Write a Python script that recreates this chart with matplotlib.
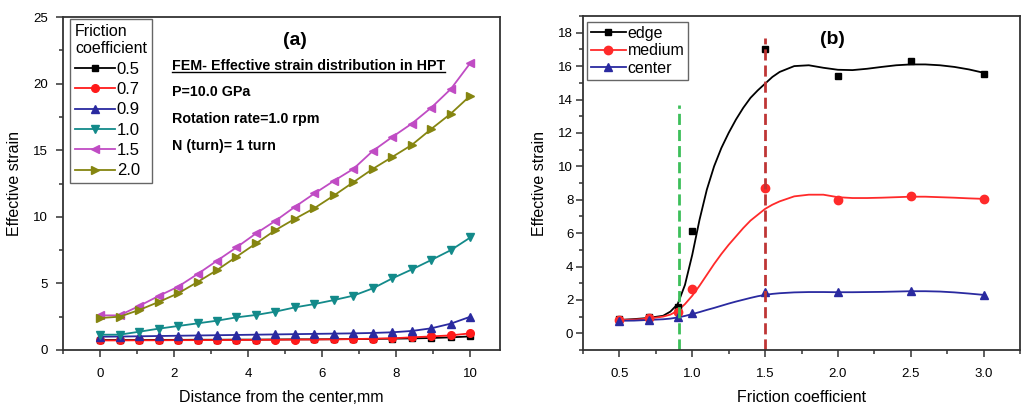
import matplotlib.pyplot as plt
from matplotlib.lines import Line2D
from matplotlib.ticker import MultipleLocator

plt.rcParams['font.family'] = ['Liberation Sans', 'DejaVu Sans']

# (a) effective strain along the radius, one curve per friction coefficient
distance = [0.0, 0.526, 1.053, 1.579, 2.105, 2.632, 3.158, 3.684, 4.211, 4.737,
            5.263, 5.789, 6.316, 6.842, 7.368, 7.895, 8.421, 8.947, 9.474, 10.0]
strain_05 = [0.75, 0.75, 0.75, 0.76, 0.76, 0.77, 0.77, 0.78, 0.78, 0.79,
             0.80, 0.80, 0.81, 0.82, 0.83, 0.85, 0.87, 0.90, 0.95, 1.02]
strain_07 = [0.72, 0.72, 0.73, 0.73, 0.74, 0.74, 0.75, 0.75, 0.76, 0.77,
             0.78, 0.79, 0.80, 0.82, 0.85, 0.88, 0.95, 1.02, 1.10, 1.25]
strain_09 = [1.00, 1.01, 1.03, 1.05, 1.07, 1.09, 1.11, 1.13, 1.15, 1.17,
             1.19, 1.21, 1.23, 1.25, 1.28, 1.33, 1.43, 1.63, 1.98, 2.50]
strain_10 = [1.15, 1.15, 1.37, 1.60, 1.80, 2.00, 2.20, 2.45, 2.63, 2.88,
             3.20, 3.45, 3.75, 4.08, 4.63, 5.38, 6.05, 6.76, 7.50, 8.45]
strain_15 = [2.60, 2.60, 3.30, 4.05, 4.75, 5.70, 6.70, 7.70, 8.75, 9.70,
             10.75, 11.75, 12.70, 13.60, 14.95, 16.00, 17.00, 18.20, 19.60, 21.55]
strain_20 = [2.40, 2.50, 3.00, 3.60, 4.25, 5.10, 6.00, 7.00, 8.00, 9.00,
             9.85, 10.65, 11.60, 12.60, 13.60, 14.50, 15.40, 16.60, 17.75, 19.10]
series_a = [('0.5', strain_05, 'black', 's', 4.5),
            ('0.7', strain_07, '#ff1a1a', 'o', 5.5),
            ('0.9', strain_09, '#2a2aa0', '^', 5.5),
            ('1.0', strain_10, '#138a8a', 'v', 5.5),
            ('1.5', strain_15, '#c04cc4', '<', 5.5),
            ('2.0', strain_20, '#858510', '>', 5.5)]

# (b) strain vs friction coefficient at three radial positions
friction = [0.5, 0.7, 0.9, 1.0, 1.5, 2.0, 2.5, 3.0]
edge = [0.85, 0.95, 1.55, 6.1, 17.0, 15.4, 16.3, 15.55]
medium = [0.80, 0.90, 1.30, 2.65, 8.7, 8.0, 8.2, 8.05]
center = [0.75, 0.80, 0.95, 1.20, 2.45, 2.45, 2.55, 2.30]

# fitted trend curves
fit_x = [0.5, 0.6, 0.7, 0.8, 0.85, 0.9, 0.95, 1.0, 1.05, 1.1, 1.15, 1.2, 1.25,
         1.3, 1.35, 1.4, 1.45, 1.5, 1.55, 1.6, 1.7, 1.8, 1.9, 2.0, 2.1, 2.2,
         2.3, 2.4, 2.5, 2.6, 2.7, 2.8, 2.9, 3.0]
edge_fit = [0.80, 0.85, 0.92, 1.05, 1.30, 1.75, 2.90, 4.70, 6.80, 8.60, 10.0,
            11.1, 12.0, 12.8, 13.5, 14.1, 14.55, 14.95, 15.35, 15.65, 16.0,
            16.05, 15.9, 15.78, 15.76, 15.84, 15.95, 16.05, 16.1, 16.1, 16.05,
            15.95, 15.8, 15.6]
medium_fit = [0.80, 0.82, 0.88, 1.00, 1.12, 1.35, 1.75, 2.25, 2.85, 3.50, 4.15,
              4.75, 5.30, 5.80, 6.30, 6.75, 7.10, 7.45, 7.70, 7.90, 8.20, 8.30,
              8.30, 8.15, 8.10, 8.10, 8.12, 8.15, 8.18, 8.18, 8.15, 8.12, 8.08,
              8.05]
center_fit = [0.75, 0.76, 0.80, 0.84, 0.88, 0.95, 1.04, 1.15, 1.27, 1.40, 1.52,
              1.65, 1.78, 1.90, 2.01, 2.12, 2.22, 2.30, 2.36, 2.40, 2.45, 2.47,
              2.47, 2.46, 2.46, 2.47, 2.48, 2.50, 2.52, 2.52, 2.50, 2.45, 2.38,
              2.30]

green_mark, green_top = 0.91, 13.7
red_mark, red_top = 1.5, 17.7

fig = plt.figure(figsize=(10.34, 4.07), dpi=100)
W, H = 1034, 407
ax1 = fig.add_axes([63 / W, 1 - 350 / H, 437 / W, 333 / H])
ax2 = fig.add_axes([583 / W, 1 - 350 / H, 437 / W, 334 / H])

for ax in (ax1, ax2):
    for s in ax.spines.values():
        s.set_linewidth(1.3)
        s.set_color('#333333')
    ax.tick_params(which='both', direction='out', top=False, right=False,
                   color='#333333', width=1.1, labelsize=9.5)
    ax.tick_params(which='major', length=5)
    ax.tick_params(which='minor', length=3)
    ax.tick_params(axis='x', pad=8)

# ---- panel (a)
for label, vals, color, marker, ms in series_a:
    ax1.plot(distance, vals, color=color, marker=marker, markersize=ms,
             lw=1.3, label=label)
ax1.set_xlim(-1, 10.8)
ax1.set_ylim(0, 25)
ax1.xaxis.set_major_locator(MultipleLocator(2))
ax1.xaxis.set_minor_locator(MultipleLocator(1))
ax1.yaxis.set_major_locator(MultipleLocator(5))
ax1.yaxis.set_minor_locator(MultipleLocator(2.5))
ax1.tick_params(axis='y', pad=6)
ax1.set_xlabel('Distance from the center,mm', fontsize=11.5)
ax1.set_ylabel('Effective strain', fontsize=11.5)
ax1.xaxis.set_label_coords(0.5, -0.12)
ax1.yaxis.set_label_coords(-0.094, 0.5)

leg1 = ax1.legend(title='Friction\ncoefficient', loc='upper left',
                  bbox_to_anchor=(0.016, 0.994), borderaxespad=0,
                  fontsize=12, title_fontsize=11.5, alignment='left',
                  fancybox=False, edgecolor='#666666', framealpha=1,
                  handlelength=2.4, handletextpad=0.1, labelspacing=0.32,
                  borderpad=0.3)
leg1.get_frame().set_linewidth(1.0)

ax1.text(0.53, 0.93, '(a)', transform=ax1.transAxes, fontsize=14,
         fontweight='bold', ha='center', va='center')
fem = ax1.text(0.249, 0.852, 'FEM- Effective strain distribution in HPT',
               transform=ax1.transAxes, fontsize=10.3, fontweight='bold',
               va='center')
notes = ['P=10.0 GPa', 'Rotation rate=1.0 rpm', 'N (turn)= 1 turn']
for i, t in enumerate(notes):
    ax1.text(0.249, 0.774 - i * 0.08, t, transform=ax1.transAxes, fontsize=10.3,
             fontweight='bold', va='center')

# ---- panel (b)
ax2.plot(fit_x, edge_fit, color='black', lw=1.3)
ax2.plot(fit_x, medium_fit, color='#ff2a2a', lw=1.3)
ax2.plot(fit_x, center_fit, color='#2a2aa0', lw=1.3)
ax2.plot(friction, edge, 's', color='black', markersize=5)
ax2.plot(friction, medium, 'o', color='#ff2a2a', markersize=6)
ax2.plot(friction, center, '^', color='#2a2aa0', markersize=6)
ax2.vlines(green_mark, -1, green_top, colors='#3cbf5a', lw=2, linestyles=(0, (4, 1.8)))
ax2.vlines(red_mark, -1, red_top, colors='#bf3535', lw=2, linestyles=(0, (4, 1.8)))
ax2.set_xlim(0.25, 3.25)
ax2.set_ylim(-1, 19)
ax2.xaxis.set_major_locator(MultipleLocator(0.5))
ax2.xaxis.set_minor_locator(MultipleLocator(0.25))
ax2.yaxis.set_major_locator(MultipleLocator(2))
ax2.yaxis.set_minor_locator(MultipleLocator(1))
ax2.set_xticks([0.5, 1.0, 1.5, 2.0, 2.5, 3.0])
ax2.tick_params(axis='y', pad=2)
ax2.set_xlabel('Friction coefficient', fontsize=11.5)
ax2.set_ylabel('Effective strain', fontsize=11.5)
ax2.xaxis.set_label_coords(0.5, -0.12)
ax2.yaxis.set_label_coords(-0.082, 0.5)

handles = [Line2D([], [], color='black', marker='s', markersize=5, lw=1.3),
           Line2D([], [], color='#ff2a2a', marker='o', markersize=6, lw=1.3),
           Line2D([], [], color='#2a2aa0', marker='^', markersize=6, lw=1.3)]
leg2 = ax2.legend(handles, ['edge', 'medium', 'center'], loc='upper left',
                  bbox_to_anchor=(0.009, 0.982), borderaxespad=0,
                  fontsize=11.5, fancybox=False, edgecolor='#666666',
                  framealpha=1, handlelength=2.2, handletextpad=0.1,
                  labelspacing=0.15, borderpad=0.25)
leg2.get_frame().set_linewidth(1.0)
ax2.text(0.57, 0.93, '(b)', transform=ax2.transAxes, fontsize=14,
         fontweight='bold', ha='center', va='center')

# underline for the FEM caption
fig.canvas.draw()
bb = fem.get_window_extent().transformed(fig.transFigure.inverted())
fig.add_artist(Line2D([bb.x0, bb.x1], [bb.y0 + 0.002, bb.y0 + 0.002],
                      transform=fig.transFigure, color='black', lw=1.0))

fig.savefig('out.png', dpi=100, facecolor='white')
